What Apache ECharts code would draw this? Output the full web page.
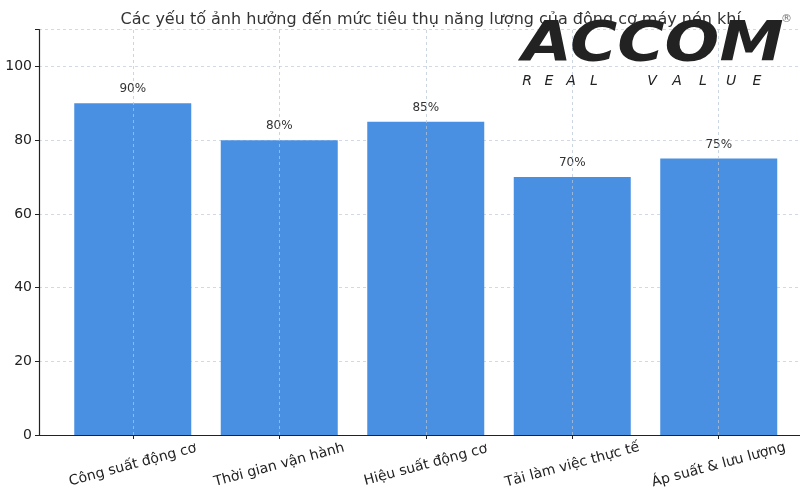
<!DOCTYPE html>
<html>
<head>
<meta charset="utf-8">
<script src="https://cdn.jsdelivr.net/npm/echarts@6/dist/echarts.min.js"></script>
<style>html,body{margin:0;padding:0;background:#fff}#c{width:800px;height:500px}</style>
</head>
<body>
<div id="c"></div>
<script>
const titleText = 'Các yếu tố ảnh hưởng đến mức tiêu thụ năng lượng của động cơ máy nén khí';
const yAxisName = 'Mức độ ảnh hưởng (%)';
const categories = ['Công suất động cơ', 'Thời gian vận hành', 'Hiệu suất động cơ', 'Tải làm việc thực tế', 'Áp suất & lưu lượng'];
const values = [90, 80, 85, 70, 75];
const yTicks = [0, 20, 40, 60, 80, 100];
const logoText = 'ACCOM';
const logoSub = ['R', 'E', 'A', 'L', 'V', 'A', 'L', 'U', 'E'];

const catIdx = categories.map((_, i) => i);
const barData = values.map((v, i) => [i, v]);
const subX = [527, 549, 571, 594, 652, 677, 703, 731, 757];

const chart = echarts.init(document.getElementById('c'), null, {renderer: 'canvas'});
const font = 'DejaVu Sans, sans-serif';
chart.setOption({
  animation: false,
  textStyle: {fontFamily: font},
  title: {
    text: titleText, left: 425.7, top: 7, textAlign: 'center',
    textStyle: {fontSize: 16, fontWeight: 'normal', color: '#333', fontFamily: font}
  },
  grid: {left: 39, top: 29.6, width: 773.5, bottom: 65, containLabel: false, outerBoundsMode: 'none'},
  xAxis: {
    type: 'value', min: -0.64, max: 4.64,
    axisLine: {show: true, onZero: false, lineStyle: {color: '#222', width: 1.2}},
    axisTick: {show: true, customValues: catIdx, length: 4, inside: false, lineStyle: {color: '#222'}},
    axisLabel: {
      customValues: catIdx, rotate: 15, align: 'center', verticalAlign: 'middle', margin: 30,
      fontSize: 14, color: '#222', fontFamily: font,
      formatter: v => categories[Math.round(v)] || ''
    },
    splitLine: {show: false}
  },
  yAxis: {
    type: 'value', min: 0, max: 110, interval: 20,
    name: yAxisName, nameLocation: 'middle', nameGap: 43, nameRotate: 90,
    nameTextStyle: {fontSize: 14, color: '#222'},
    axisLine: {show: true, onZero: false, lineStyle: {color: '#222', width: 1.2}},
    axisTick: {show: true, length: 4, lineStyle: {color: '#222'}},
    axisLabel: {fontSize: 14, color: '#222', margin: 7, fontFamily: font,
      customValues: yTicks},
    splitLine: {show: true, lineStyle: {color: '#c8d0dc', type: [3, 3], width: 0.8}}
  },
  series: [{
    type: 'bar', data: barData, barWidth: 117,
    itemStyle: {color: '#4a90e2'},
    label: {show: true, position: 'top', distance: 8, fontSize: 12, color: '#333', fontFamily: font,
      formatter: p => p.value[1] + '%'},
    markLine: {
      silent: true, symbol: 'none', label: {show: false}, z: 5,
      lineStyle: {color: '#b8c6d8', type: [3, 3], width: 0.8, opacity: 0.9},
      data: catIdx.map(i => ({xAxis: i}))
    }
  }],
  graphic: [
    {type: 'text', left: 522, top: 19, z: 100, scaleX: 1.04, scaleY: 0.88,
      style: {text: logoText, font: 'italic bold 62px "DejaVu Sans"', fill: '#222'}},
    {type: 'text', left: 781, top: 14, z: 100,
      style: {text: '®', font: '11px "DejaVu Sans"', fill: '#777'}},
    ...logoSub.map((ch, i) => ({type: 'text', x: subX[i], y: 81, z: 100,
      style: {text: ch, font: 'italic 14px "DejaVu Sans"', fill: '#222', align: 'center', verticalAlign: 'middle'}}))
  ]
});
</script>
</body>
</html>
